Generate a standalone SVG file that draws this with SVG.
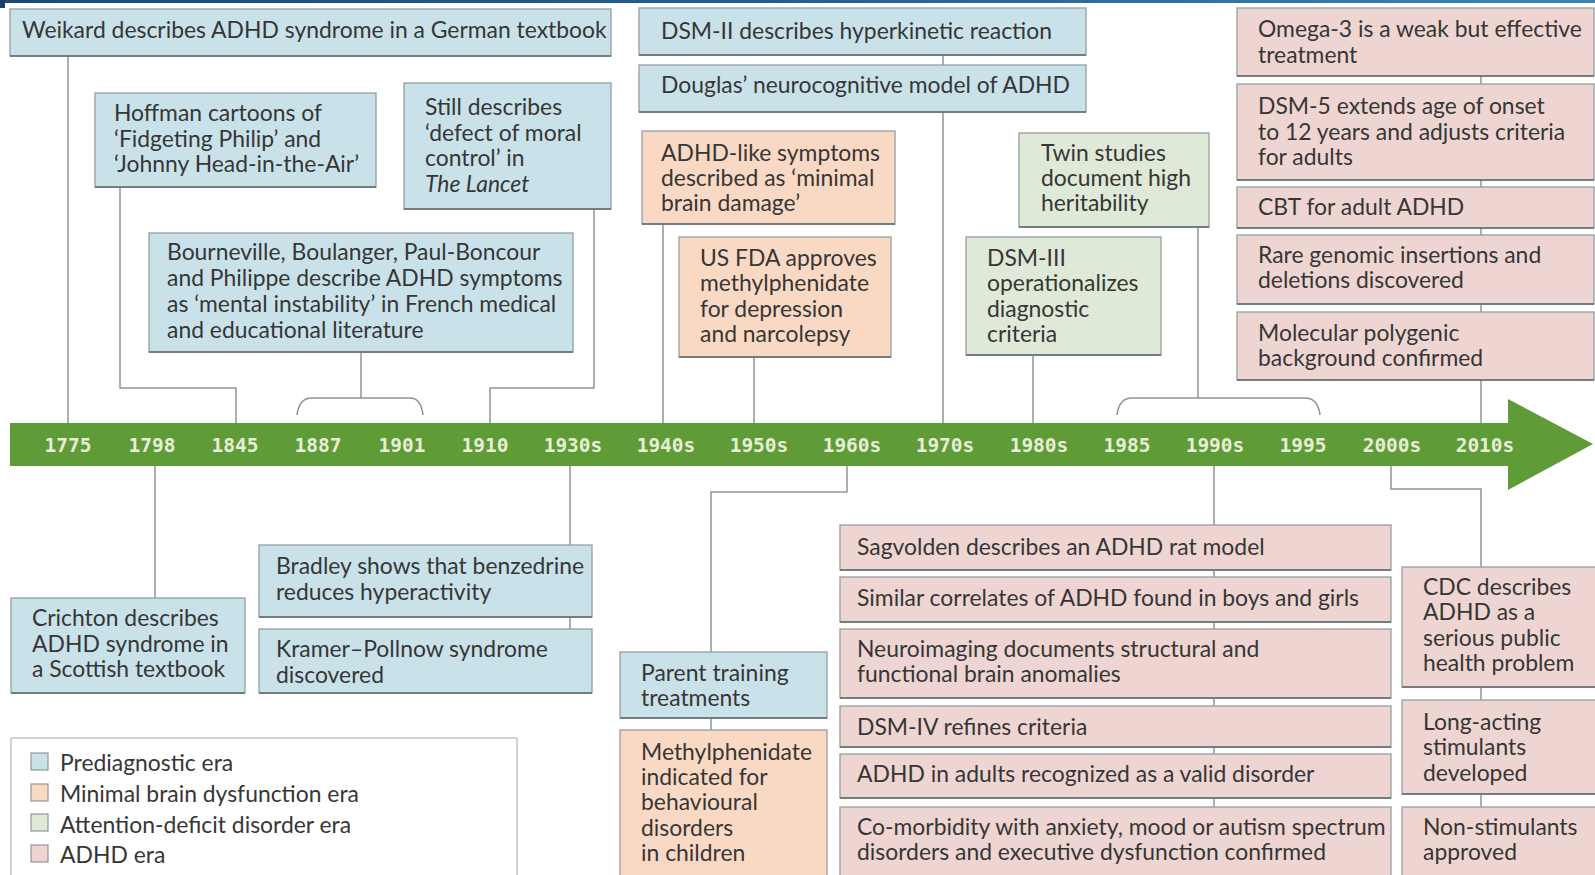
<svg xmlns="http://www.w3.org/2000/svg" width="1595" height="875" viewBox="0 0 1595 875">
<defs>
<linearGradient id="topbar" x1="0" x2="1" y1="0" y2="0">
<stop offset="0" stop-color="#1b4a78"/><stop offset="0.5" stop-color="#245f8f"/><stop offset="1" stop-color="#3b86b0"/>
</linearGradient>
</defs>
<style>
.n rect{stroke:#969fa2;stroke-width:1.3}
.n .sh{stroke:#737c7f;stroke-width:2;fill:none}
.blue rect{fill:#c9e2ea}
.orange rect{fill:#fad9c4}
.green rect{fill:#dfe9d7}
.pink rect{fill:#eed5d2}
text{font-family:Lato,"Open Sans","Liberation Sans",sans-serif;font-size:22.9px;fill:#363636}
.it{font-style:italic}
.yr{font-family:"DejaVu Sans Mono",monospace;font-weight:bold;font-size:19.5px;fill:#e6efd6;text-anchor:middle}
.conn path{stroke:#8e9597;stroke-width:1.5;fill:none}
.leg rect.sq{stroke:#8f9799;stroke-width:1.2}
</style>
<rect x="5" y="0" width="1590" height="3" fill="url(#topbar)"/>
<rect x="0" y="0" width="5" height="8" fill="#1b3f6a"/>

<g class="conn">
<path d="M68 56V423"/>
<path d="M120 187V388H236V423"/>
<path d="M594 209V388H490V423"/>
<path d="M361 352V398"/>
<path d="M297 415Q299 398 312 398H410Q421 398 423 415"/>
<path d="M943 55V65"/>
<path d="M943 112V423"/>
<path d="M663 224V423"/>
<path d="M754 357V423"/>
<path d="M1033 355V423"/>
<path d="M1198 227V398"/>
<path d="M1117 415Q1119 398 1132 398H1305Q1318 398 1320 415"/>
<path d="M1481 76V84M1481 180V187M1481 228V235M1481 304V312M1481 380V423"/>
<path d="M155 465V598"/>
<path d="M570 465V545M570 617V629"/>
<path d="M847 465V492H711V652M711 718V730"/>
<path d="M1214 465V526M1214 570V577M1214 622V629M1214 698V706M1214 747V754M1214 798V807"/>
<path d="M1391 465V489H1481V567M1481 687V700M1481 794V807"/>
</g>

<g id="timeline">
<rect x="10" y="423" width="1502" height="43" fill="#5f9b37"/>
<polygon points="1508,399 1593,444 1508,490" fill="#5f9b37"/>
<text class="yr" x="68" y="451.5">1775</text>
<text class="yr" x="152" y="451.5">1798</text>
<text class="yr" x="235" y="451.5">1845</text>
<text class="yr" x="318" y="451.5">1887</text>
<text class="yr" x="402" y="451.5">1901</text>
<text class="yr" x="485" y="451.5">1910</text>
<text class="yr" x="573" y="451.5">1930s</text>
<text class="yr" x="666" y="451.5">1940s</text>
<text class="yr" x="759" y="451.5">1950s</text>
<text class="yr" x="852" y="451.5">1960s</text>
<text class="yr" x="945" y="451.5">1970s</text>
<text class="yr" x="1039" y="451.5">1980s</text>
<text class="yr" x="1127" y="451.5">1985</text>
<text class="yr" x="1215" y="451.5">1990s</text>
<text class="yr" x="1303" y="451.5">1995</text>
<text class="yr" x="1392" y="451.5">2000s</text>
<text class="yr" x="1485" y="451.5">2010s</text>
</g>

<g id="weikard" class="n blue"><rect x="10" y="9" width="601" height="47"/><path class="sh" d="M10 56H611"/>
<text x="22" y="38">Weikard describes ADHD syndrome in a German textbook</text></g>
<g id="hoffman" class="n blue"><rect x="95" y="93" width="281" height="94"/><path class="sh" d="M95 187H376"/>
<text><tspan x="114" y="121">Hoffman cartoons of</tspan><tspan x="114" y="146.5">‘Fidgeting Philip’ and</tspan><tspan x="114" y="172">‘Johnny Head-in-the-Air’</tspan></text></g>
<g id="still" class="n blue"><rect x="404" y="83" width="207" height="126"/><path class="sh" d="M404 209H611"/>
<text><tspan x="425" y="115">Still describes</tspan><tspan x="425" y="140.5">‘defect of moral</tspan><tspan x="425" y="166">control’ in</tspan><tspan class="it" x="425" y="191.5">The Lancet</tspan></text></g>
<g id="bourneville" class="n blue"><rect x="149" y="233" width="424" height="119"/><path class="sh" d="M149 352H573"/>
<text><tspan x="167" y="260">Bourneville, Boulanger, Paul-Boncour</tspan><tspan x="167" y="286">and Philippe describe ADHD symptoms</tspan><tspan x="167" y="312">as ‘mental instability’ in French medical</tspan><tspan x="167" y="338">and educational literature</tspan></text></g>
<g id="dsm2" class="n blue"><rect x="639" y="8" width="447" height="47"/><path class="sh" d="M639 55H1086"/>
<text x="661" y="39">DSM-II describes hyperkinetic reaction</text></g>
<g id="douglas" class="n blue"><rect x="639" y="65" width="447" height="47"/><path class="sh" d="M639 112H1086"/>
<text x="661" y="93">Douglas’ neurocognitive model of ADHD</text></g>
<g id="adhdlike" class="n orange"><rect x="642" y="131" width="253" height="93"/><path class="sh" d="M642 224H895"/>
<text><tspan x="661" y="161">ADHD-like symptoms</tspan><tspan x="661" y="186">described as ‘minimal</tspan><tspan x="661" y="211">brain damage’</tspan></text></g>
<g id="fda" class="n orange"><rect x="679" y="237" width="212" height="120"/><path class="sh" d="M679 357H891"/>
<text><tspan x="700" y="266">US FDA approves</tspan><tspan x="700" y="291">methylphenidate</tspan><tspan x="700" y="316.5">for depression</tspan><tspan x="700" y="342">and narcolepsy</tspan></text></g>
<g id="twin" class="n green"><rect x="1019" y="133" width="190" height="94"/><path class="sh" d="M1019 227H1209"/>
<text><tspan x="1041" y="161">Twin studies</tspan><tspan x="1041" y="186">document high</tspan><tspan x="1041" y="211">heritability</tspan></text></g>
<g id="dsm3" class="n green"><rect x="966" y="237" width="195" height="118"/><path class="sh" d="M966 355H1161"/>
<text><tspan x="987" y="266">DSM-III</tspan><tspan x="987" y="291">operationalizes</tspan><tspan x="987" y="316.5">diagnostic</tspan><tspan x="987" y="342">criteria</tspan></text></g>
<g id="omega" class="n pink"><rect x="1237" y="8" width="357" height="68"/><path class="sh" d="M1237 76H1594"/>
<text><tspan x="1258" y="37">Omega-3 is a weak but effective</tspan><tspan x="1258" y="63">treatment</tspan></text></g>
<g id="dsm5" class="n pink"><rect x="1237" y="84" width="357" height="96"/><path class="sh" d="M1237 180H1594"/>
<text><tspan x="1258" y="114">DSM-5 extends age of onset</tspan><tspan x="1258" y="139.5">to 12 years and adjusts criteria</tspan><tspan x="1258" y="165">for adults</tspan></text></g>
<g id="cbt" class="n pink"><rect x="1237" y="187" width="357" height="41"/><path class="sh" d="M1237 228H1594"/>
<text x="1258" y="214.5">CBT for adult ADHD</text></g>
<g id="rare" class="n pink"><rect x="1237" y="235" width="357" height="69"/><path class="sh" d="M1237 304H1594"/>
<text><tspan x="1258" y="262.5">Rare genomic insertions and</tspan><tspan x="1258" y="288">deletions discovered</tspan></text></g>
<g id="molecular" class="n pink"><rect x="1237" y="312" width="357" height="68"/><path class="sh" d="M1237 380H1594"/>
<text><tspan x="1258" y="340.5">Molecular polygenic</tspan><tspan x="1258" y="366">background confirmed</tspan></text></g>

<g id="crichton" class="n blue"><rect x="11" y="598" width="234" height="95"/><path class="sh" d="M11 693H245"/>
<text><tspan x="32" y="626">Crichton describes</tspan><tspan x="32" y="651.5">ADHD syndrome in</tspan><tspan x="32" y="677">a Scottish textbook</tspan></text></g>
<g id="bradley" class="n blue"><rect x="259" y="545" width="333" height="72"/><path class="sh" d="M259 617H592"/>
<text><tspan x="276" y="574">Bradley shows that benzedrine</tspan><tspan x="276" y="600">reduces hyperactivity</tspan></text></g>
<g id="kramer" class="n blue"><rect x="259" y="629" width="333" height="64"/><path class="sh" d="M259 693H592"/>
<text><tspan x="276" y="657">Kramer–Pollnow syndrome</tspan><tspan x="276" y="682.5">discovered</tspan></text></g>
<g id="parent" class="n blue"><rect x="620" y="652" width="207" height="66"/><path class="sh" d="M620 718H827"/>
<text><tspan x="641" y="680.5">Parent training</tspan><tspan x="641" y="706">treatments</tspan></text></g>
<g id="methyl" class="n orange"><rect x="620" y="730" width="207" height="155"/>
<text><tspan x="641" y="760">Methylphenidate</tspan><tspan x="641" y="785">indicated for</tspan><tspan x="641" y="810">behavioural</tspan><tspan x="641" y="835.5">disorders</tspan><tspan x="641" y="861">in children</tspan></text></g>

<g id="legend" class="leg">
<rect x="11" y="738" width="506" height="150" fill="#ffffff" stroke="#b9bdbe" stroke-width="1.3"/>
<rect class="sq" x="31" y="753" width="17" height="17" fill="#c9e2ea"/>
<rect class="sq" x="31" y="784" width="17" height="17" fill="#fad9c4"/>
<rect class="sq" x="31" y="814" width="17" height="17" fill="#dfe9d7"/>
<rect class="sq" x="31" y="845" width="17" height="17" fill="#eed5d2"/>
<text x="60" y="771">Prediagnostic era</text>
<text x="60" y="802">Minimal brain dysfunction era</text>
<text x="60" y="832.5">Attention-deficit disorder era</text>
<text x="60" y="863">ADHD era</text>
</g>

<g id="sagvolden" class="n pink"><rect x="840" y="525" width="551" height="45"/><path class="sh" d="M840 570H1391"/>
<text x="857" y="554.5">Sagvolden describes an ADHD rat model</text></g>
<g id="similar" class="n pink"><rect x="840" y="577" width="551" height="45"/><path class="sh" d="M840 622H1391"/>
<text x="857" y="605.5">Similar correlates of ADHD found in boys and girls</text></g>
<g id="neuro" class="n pink"><rect x="840" y="629" width="551" height="69"/><path class="sh" d="M840 698H1391"/>
<text><tspan x="857" y="656.5">Neuroimaging documents structural and</tspan><tspan x="857" y="682">functional brain anomalies</tspan></text></g>
<g id="dsm4" class="n pink"><rect x="840" y="706" width="551" height="41"/><path class="sh" d="M840 747H1391"/>
<text x="857" y="734.5">DSM-IV refines criteria</text></g>
<g id="adults" class="n pink"><rect x="840" y="754" width="551" height="44"/><path class="sh" d="M840 798H1391"/>
<text x="857" y="782">ADHD in adults recognized as a valid disorder</text></g>
<g id="comorbid" class="n pink"><rect x="840" y="807" width="551" height="80"/>
<text><tspan x="857" y="835">Co-morbidity with anxiety, mood or autism spectrum</tspan><tspan x="857" y="860">disorders and executive dysfunction confirmed</tspan></text></g>
<g id="cdc" class="n pink"><rect x="1402" y="567" width="195" height="120"/><path class="sh" d="M1402 687H1595"/>
<text><tspan x="1423" y="595">CDC describes</tspan><tspan x="1423" y="620">ADHD as a</tspan><tspan x="1423" y="645.5">serious public</tspan><tspan x="1423" y="671">health problem</tspan></text></g>
<g id="longacting" class="n pink"><rect x="1402" y="700" width="195" height="94"/><path class="sh" d="M1402 794H1595"/>
<text><tspan x="1423" y="730">Long-acting</tspan><tspan x="1423" y="755">stimulants</tspan><tspan x="1423" y="780.5">developed</tspan></text></g>
<g id="nonstim" class="n pink"><rect x="1402" y="807" width="195" height="80"/>
<text><tspan x="1423" y="835">Non-stimulants</tspan><tspan x="1423" y="860">approved</tspan></text></g>
</svg>
